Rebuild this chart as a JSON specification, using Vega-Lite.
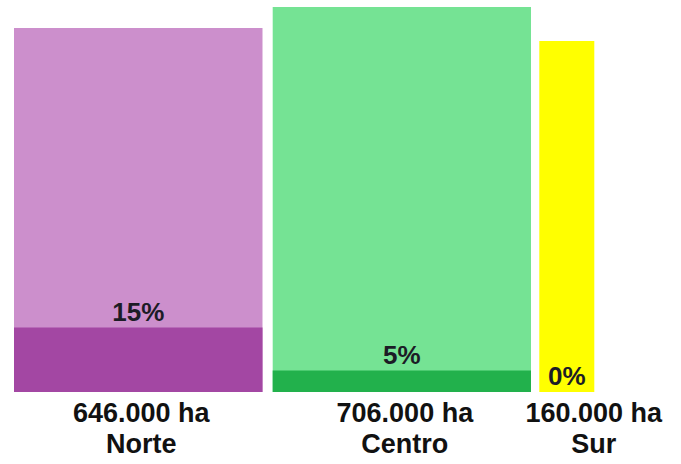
{
  "$schema": "https://vega.github.io/schema/vega-lite/v6.json",
  "width": 681,
  "height": 392,
  "autosize": {"type": "none"},
  "padding": {"top": 0, "left": 0, "right": 0, "bottom": 72},
  "background": "#ffffff",
  "config": {"view": {"stroke": null}},
  "data": {
    "values": [
      {"region": "Norte", "hectareas": "646.000 ha", "inicio": 14, "fin": 262.5, "total": 364, "oscuro": 64.5, "pct": "15%"},
      {"region": "Centro", "hectareas": "706.000 ha", "inicio": 272.7, "fin": 531, "total": 385, "oscuro": 21.5, "pct": "5%"},
      {"region": "Sur", "hectareas": "160.000 ha", "inicio": 539.3, "fin": 594.3, "total": 351, "oscuro": 0, "pct": "0%"}
    ]
  },
  "transform": [
    {"calculate": "(datum.inicio + datum.fin) / 2", "as": "centro"},
    {"calculate": "datum.hectareas + '\\n' + datum.region", "as": "etiqueta"}
  ],
  "layer": [
    {
      "mark": {"type": "bar", "opacity": 1},
      "encoding": {
        "x": {"field": "inicio", "type": "quantitative", "scale": {"domain": [0, 681], "nice": false, "zero": false}, "axis": null},
        "x2": {"field": "fin"},
        "y": {"field": "total", "type": "quantitative", "scale": {"domain": [0, 392], "nice": false}, "axis": null},
        "y2": {"datum": 0},
        "color": {"field": "region", "type": "nominal", "scale": {"domain": ["Norte", "Centro", "Sur"], "range": ["#cc8fcc", "#75e394", "#ffff00"]}, "legend": null}
      }
    },
    {
      "transform": [{"filter": "datum.oscuro > 0"}],
      "mark": {"type": "bar", "opacity": 1},
      "encoding": {
        "x": {"field": "inicio", "type": "quantitative"},
        "x2": {"field": "fin"},
        "y": {"field": "oscuro", "type": "quantitative"},
        "y2": {"datum": 0},
        "fill": {"field": "region", "type": "nominal", "scale": {"domain": ["Norte", "Centro"], "range": ["#a347a3", "#22b14c"]}, "legend": null}
      }
    },
    {
      "mark": {"type": "text", "font": "Liberation Sans", "fontWeight": "bold", "fontSize": 26, "baseline": "alphabetic", "align": "center", "dy": -7, "color": "#1c1c26"},
      "encoding": {
        "x": {"field": "centro", "type": "quantitative"},
        "y": {"field": "oscuro", "type": "quantitative"},
        "text": {"field": "pct"}
      }
    },
    {
      "transform": [{"filter": "datum.region != 'Sur'"}],
      "mark": {"type": "text", "font": "Liberation Sans", "fontWeight": "bold", "fontSize": 27, "baseline": "top", "align": "center", "dy": 9, "dx": 3, "lineBreak": "\n", "lineHeight": 31, "color": "#111111"},
      "encoding": {
        "x": {"field": "centro", "type": "quantitative"},
        "y": {"datum": 0},
        "text": {"field": "etiqueta"}
      }
    },
    {
      "transform": [{"filter": "datum.region == 'Sur'"}],
      "mark": {"type": "text", "font": "Liberation Sans", "fontWeight": "bold", "fontSize": 27, "baseline": "top", "align": "center", "dy": 9, "dx": 27, "lineBreak": "\n", "lineHeight": 31, "color": "#111111"},
      "encoding": {
        "x": {"field": "centro", "type": "quantitative"},
        "y": {"datum": 0},
        "text": {"field": "etiqueta"}
      }
    }
  ]
}
